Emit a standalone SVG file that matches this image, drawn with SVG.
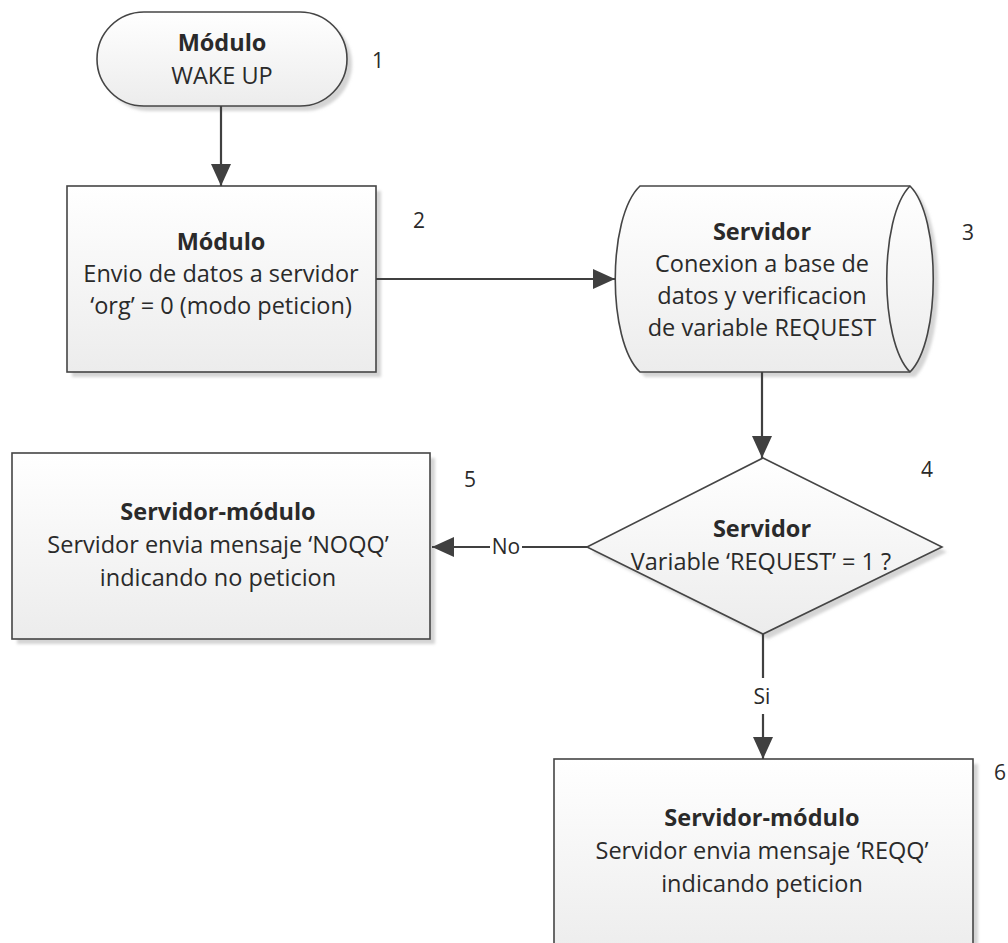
<svg xmlns="http://www.w3.org/2000/svg" width="1008" height="943" viewBox="0 0 1008 943">
  <style>
    .shape { fill: url(#boxFill); stroke: #454545; stroke-width: 1.6; }
    .shadow { fill: #d4d4d4; filter: url(#soft); }
    .t { font-family: "Open Sans", "Liberation Sans", sans-serif; font-size: 23.5px; fill: #2a2a2a; text-anchor: middle; }
    .b { font-weight: bold; }
    .num { font-family: "Open Sans", "Liberation Sans", sans-serif; font-size: 21px; fill: #2a2a2a; text-anchor: middle; }
    .lbl { font-family: "Open Sans", "Liberation Sans", sans-serif; font-size: 21px; fill: #2a2a2a; text-anchor: middle; }
    .conn { fill: none; stroke: #404040; stroke-width: 2.2; marker-end: url(#arrow); }
  </style>
  <defs>
    <linearGradient id="boxFill" x1="0" y1="0" x2="0" y2="1">
      <stop offset="0" stop-color="#ffffff"/>
      <stop offset="1" stop-color="#ececec"/>
    </linearGradient>
    <filter id="soft" x="-5%" y="-5%" width="110%" height="110%">
      <feGaussianBlur stdDeviation="1.5"/>
    </filter>
    <marker id="arrow" viewBox="0 0 22 20" refX="22" refY="10" markerWidth="22" markerHeight="20" markerUnits="userSpaceOnUse" orient="auto">
      <path d="M0,0 L22,10 L0,20 z" fill="#404040"/>
    </marker>
  </defs>

  <rect width="1008" height="943" fill="#ffffff"/>

  <!-- 1: start terminal -->
  <g id="node1">
    <rect class="shadow" x="102" y="17" width="250" height="94" rx="47"/>
    <rect class="shape" x="97" y="12" width="250" height="94" rx="47"/>
    <text class="t b" x="222" y="51">Módulo</text>
    <text class="t" x="222" y="84">WAKE UP</text>
    <text class="num" x="378" y="68">1</text>
  </g>

  <!-- 2: module sends data -->
  <g id="node2">
    <rect class="shadow" x="72" y="191" width="309" height="186"/>
    <rect class="shape" x="67" y="186" width="309" height="186"/>
    <text class="t b" x="221" y="250">Módulo</text>
    <text class="t" x="221" y="282">Envio de datos a servidor</text>
    <text class="t" x="221" y="314">‘org’ = 0 (modo peticion)</text>
    <text class="num" x="419" y="228">2</text>
  </g>

  <!-- 3: server database check -->
  <g id="node3">
    <path class="shadow" d="M645,191 L915,191 C946,222 946,346 915,377 L645,377 C612,346 612,222 645,191 z"/>
    <path class="shape" d="M640,186 L910,186 C941,217 941,341 910,372 L640,372 C607,341 607,217 640,186 z"/>
    <path d="M910,186 C879,217 879,341 910,372" fill="none" stroke="#454545" stroke-width="1.6"/>
    <text class="t b" x="762" y="240">Servidor</text>
    <text class="t" x="762" y="272">Conexion a base de</text>
    <text class="t" x="762" y="304">datos y verificacion</text>
    <text class="t" x="762" y="336">de variable REQUEST</text>
    <text class="num" x="968" y="240">3</text>
  </g>

  <!-- 4: decision -->
  <g id="node4">
    <polygon class="shadow" points="768,463 947,552 768,639 592,552"/>
    <polygon class="shape" points="763,458 942,547 763,634 587,547"/>
    <text class="t b" x="762" y="537">Servidor</text>
    <text class="t" x="761" y="570">Variable ‘REQUEST’ = 1 ?</text>
    <text class="num" x="927" y="477">4</text>
  </g>

  <!-- 5: no request -->
  <g id="node5">
    <rect class="shadow" x="17" y="458" width="418" height="186"/>
    <rect class="shape" x="12" y="453" width="418" height="186"/>
    <text class="t b" x="218" y="520">Servidor-módulo</text>
    <text class="t" x="218" y="553">Servidor envia mensaje ‘NOQQ’</text>
    <text class="t" x="218" y="586">indicando no peticion</text>
    <text class="num" x="470" y="487">5</text>
  </g>

  <!-- 6: request -->
  <g id="node6">
    <rect class="shadow" x="559" y="764" width="419" height="200"/>
    <rect class="shape" x="554" y="759" width="419" height="200"/>
    <text class="t b" x="762" y="826">Servidor-módulo</text>
    <text class="t" x="762" y="859">Servidor envia mensaje ‘REQQ’</text>
    <text class="t" x="762" y="892">indicando peticion</text>
    <text class="num" x="1000" y="780">6</text>
  </g>

  <!-- connectors -->
  <g id="connectors">
    <line class="conn" x1="221" y1="106" x2="221" y2="186"/>
    <line class="conn" x1="376" y1="279" x2="615" y2="279"/>
    <line class="conn" x1="762" y1="372" x2="762" y2="458"/>
    <line class="conn" x1="587" y1="547" x2="432" y2="547"/>
    <rect x="490" y="532" width="32" height="28" fill="#ffffff"/>
    <text class="lbl" x="506" y="554">No</text>
    <line class="conn" x1="763" y1="634" x2="763" y2="759"/>
    <rect x="748" y="678" width="30" height="36" fill="#ffffff"/>
    <text class="lbl" x="762" y="704">Si</text>
  </g>
</svg>
